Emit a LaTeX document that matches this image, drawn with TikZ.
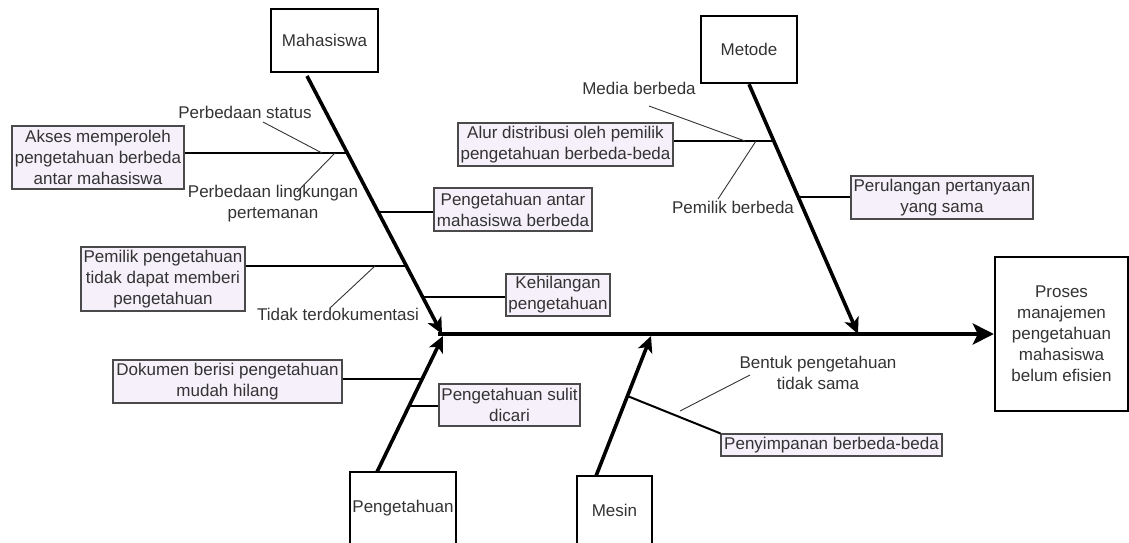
\documentclass[tikz,border=0pt]{standalone}
\usepackage{fontspec}
\setmainfont{Liberation Sans}
\usetikzlibrary{arrows.meta,calc}
\definecolor{lav}{HTML}{F5F0F9}
\definecolor{ink}{HTML}{333333}
\definecolor{edge}{HTML}{4A4A4A}
\tikzset{
  every node/.style={font=\fontsize{17pt}{21pt}\selectfont},
  cause/.style={draw=black, line width=2.4pt, fill=white, text=ink, inner sep=0pt, align=center},
  factor/.style={draw=edge, line width=1.1pt, fill=lav, text=ink, inner sep=0pt, align=center},
  note/.style={text=ink, inner sep=0pt, align=center},
  bone/.style={line width=3.6pt, -{Stealth[length=16pt,width=15pt,inset=4pt]}},
  backbone/.style={line width=4pt, -{Stealth[length=21pt,width=21pt,inset=5pt]}},
  rib/.style={line width=2pt},
  twig/.style={line width=0.9pt, draw=ink},
}
\begin{document}
\begin{tikzpicture}[x=1pt,y=-1pt]
\useasboundingbox (0,0) rectangle (1129,542);
\begin{scope}
\clip (0,0) rectangle (1129,542);

% category boxes and effect
\node[cause, minimum width=107pt, minimum height=63pt] (maha) at (324.5,40.5) {Mahasiswa};
\node[cause, minimum width=96pt, minimum height=67pt] (metode) at (749,49.5) {Metode};
\node[cause, minimum width=106pt, minimum height=72pt] (peng) at (403,508) {Pengetahuan};
\node[cause, minimum width=75pt, minimum height=68pt] (mesin) at (614.5,510) {Mesin};
\node[cause, minimum width=133pt, minimum height=154pt] (head) at (1061.5,334)
  {Proses\\manajemen\\pengetahuan\\mahasiswa\\belum efisien};

% factor boxes
\node[factor, minimum width=172pt, minimum height=63pt] (akses) at (98,157.5)
  {Akses memperoleh\\pengetahuan berbeda\\antar mahasiswa};
\node[factor, minimum width=158pt, minimum height=43pt] (antar) at (513,209.5)
  {Pengetahuan antar\\mahasiswa berbeda};
\node[factor, minimum width=164pt, minimum height=64pt] (pemilik) at (163,279)
  {Pemilik pengetahuan\\tidak dapat memberi\\pengetahuan};
\node[factor, minimum width=104pt, minimum height=42pt] (hilang) at (558,295)
  {Kehilangan\\pengetahuan};
\node[factor, minimum width=229pt, minimum height=43pt] (dokumen) at (227.5,381.5)
  {Dokumen berisi pengetahuan\\mudah hilang};
\node[factor, minimum width=141pt, minimum height=42pt] (sulit) at (509.5,405)
  {Pengetahuan sulit\\dicari};
\node[factor, minimum width=215pt, minimum height=43pt] (alur) at (565.5,144.5)
  {Alur distribusi oleh pemilik\\pengetahuan berbeda-beda};
\node[factor, minimum width=182pt, minimum height=43pt] (ulang) at (942,197.5)
  {Perulangan pertanyaan\\yang sama};
\node[factor, minimum width=221pt, minimum height=22pt] (simpan) at (831.5,445)
  {Penyimpanan berbeda-beda};

% sub-cause labels
\node[note] (nStatus) at (245,112) {Perbedaan status};
\node[note] (nLing) at (273,204) {Perbedaan lingkungan\\pertemanan};
\node[note] (nDok) at (338,314) {Tidak terdokumentasi};
\node[note] (nMedia) at (639,88) {Media berbeda};
\node[note] (nPem) at (733,207) {Pemilik berbeda};
\node[note] (nBentuk) at (818,373) {Bentuk pengetahuan\\tidak sama};

% spine ends
\coordinate (mS) at (307,76);  \coordinate (mT) at (442,334);
\coordinate (tT) at (858,334);
\coordinate (pS) at (377,472); \coordinate (pT) at (443,336);
\coordinate (eS) at (596,476); \coordinate (eT) at (651,336);
\coordinate (tail) at (438,334);

% junctions on the spines
\coordinate (j1) at (347.3,153);
\coordinate (j2) at (378.2,212);
\coordinate (j3) at (406.4,266);
\coordinate (j4) at (422.6,297);
\coordinate (j5) at (421.5,379);
\coordinate (j6) at (408.5,406);
\coordinate (j7) at (773.5,141);
\coordinate (j8) at (798,197);
\coordinate (j9) at (627.4,396);

% twig ends
\coordinate (a1) at (263,122); \coordinate (b1) at (322,153);
\coordinate (a2) at (297,192); \coordinate (b2) at (335,153);
\coordinate (a3) at (330,308); \coordinate (b3) at (375,266);
\coordinate (a4) at (649,106); \coordinate (b4) at (745,141);
\coordinate (a5) at (718,199); \coordinate (b5) at (756,141);
\coordinate (a6) at (680,411); \coordinate (b6) at (750,375);

% backbone and spines
\draw[backbone] (tail) -- (head.west |- tail);
\draw[bone] (mS) -- (mT);
\draw[bone] (metode.south) -- (tT);
\draw[bone] (pS) -- (pT);
\draw[bone] (eS) -- (eT);

% ribs
\draw[rib] (j1) -- (akses.east |- j1);
\draw[rib] (j2) -- (antar.west |- j2);
\draw[rib] (j3) -- (pemilik.east |- j3);
\draw[rib] (j4) -- (hilang.west |- j4);
\draw[rib] (j5) -- (dokumen.east |- j5);
\draw[rib] (j6) -- (sulit.west |- j6);
\draw[rib] (j7) -- (alur.east |- j7);
\draw[rib] (j8) -- (ulang.west |- j8);
\draw[rib] (j9) -- (simpan.north west);

% twigs
\draw[twig] (a1) -- (b1);
\draw[twig] (a2) -- (b2);
\draw[twig] (a3) -- (b3);
\draw[twig] (a4) -- (b4);
\draw[twig] (a5) -- (b5);
\draw[twig] (a6) -- (b6);
\end{scope}
\end{tikzpicture}
\end{document}
